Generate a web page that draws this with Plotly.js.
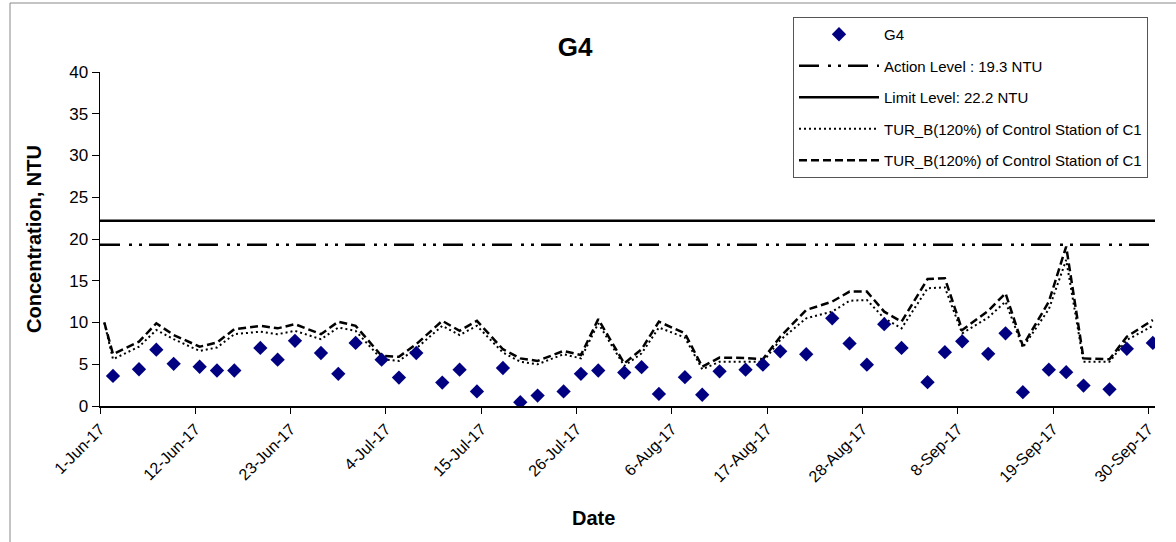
<!DOCTYPE html>
<html>
<head>
<meta charset="utf-8">
<script src="https://cdn.plot.ly/plotly-3.0.1.min.js"></script>
<style>
html,body{margin:0;padding:0;background:#fff;}
#chart{width:1176px;height:542px;}
</style>
</head>
<body>
<div id="chart"></div>
<script>
// ---- Data ----
const sampleDates = [
  "2017-06-02","2017-06-05","2017-06-07","2017-06-09","2017-06-12","2017-06-14","2017-06-16","2017-06-19","2017-06-21","2017-06-23","2017-06-26","2017-06-28","2017-06-30",
  "2017-07-03","2017-07-05","2017-07-07","2017-07-10","2017-07-12","2017-07-14","2017-07-17","2017-07-19","2017-07-21","2017-07-24","2017-07-26","2017-07-28","2017-07-31",
  "2017-08-02","2017-08-04","2017-08-07","2017-08-09","2017-08-11","2017-08-14","2017-08-16","2017-08-18","2017-08-21","2017-08-24","2017-08-26","2017-08-28","2017-08-30",
  "2017-09-01","2017-09-04","2017-09-06","2017-09-08","2017-09-11","2017-09-13","2017-09-15","2017-09-18","2017-09-20","2017-09-22","2017-09-25","2017-09-27","2017-09-30"
];
const g4Values = [
  3.6,4.4,6.75,5.05,4.7,4.25,4.25,6.95,5.55,7.8,6.35,3.85,7.55,
  5.55,3.4,6.35,2.8,4.35,1.75,4.55,0.45,1.25,1.75,3.85,4.25,4.0,
  4.65,1.45,3.45,1.35,4.15,4.35,4.95,6.55,6.2,10.5,7.5,4.95,9.8,
  6.95,2.85,6.45,7.75,6.25,8.7,1.65,4.35,4.05,2.45,2.0,6.85,7.55
];
const controlDates = ["2017-06-01"].concat(sampleDates);
const controlDashed = [
  10.0,
  6.2,7.7,9.9,8.5,7.1,7.6,9.2,9.6,9.3,9.8,8.6,10.1,9.6,
  6.0,5.9,7.4,10.2,9.0,10.2,6.8,5.7,5.4,6.6,6.1,10.4,5.1,
  6.8,10.1,8.7,4.7,5.8,5.75,5.6,8.3,11.5,12.5,13.7,13.7,11.3,
  10.1,15.2,15.3,9.1,11.4,13.5,7.2,12.5,19.1,5.7,5.6,8.3,10.3
];
const controlDotted = [
  10.0,
  5.6,7.1,9.1,8.0,6.6,7.0,8.6,8.9,8.6,9.0,8.0,9.4,9.0,
  5.6,5.4,6.9,9.6,8.5,9.6,6.4,5.3,5.0,6.2,5.7,9.9,4.8,
  6.3,9.4,8.2,4.4,5.3,5.3,5.3,7.9,10.5,11.3,12.6,12.7,10.5,
  9.3,14.1,14.2,8.7,10.6,12.5,7.0,11.6,17.5,5.3,5.3,7.9,9.6
];
const actionLevel = 19.3;
const limitLevel = 22.2;
const tickDates = ["2017-06-01","2017-06-12","2017-06-23","2017-07-04","2017-07-15","2017-07-26","2017-08-06","2017-08-17","2017-08-28","2017-09-08","2017-09-19","2017-09-30"];
const tickLabels = ["1-Jun-17","12-Jun-17","23-Jun-17","4-Jul-17","15-Jul-17","26-Jul-17","6-Aug-17","17-Aug-17","28-Aug-17","8-Sep-17","19-Sep-17","30-Sep-17"];
const yTicks = [0,5,10,15,20,25,30,35,40];

// ---- Axis geometry (the source chart's date ticks sit ~half a day before each date's marker) ----
const HALF_DAY = 12 * 3600 * 1000;
function shiftDate(s, ms) {
  const d = new Date(new Date(s + "T00:00:00Z").getTime() + ms);
  return d.toISOString().replace("T", " ").replace("Z", "").slice(0, 19);
}
const tickPositions = tickDates.map(d => shiftDate(d, -HALF_DAY));
const xRange = [shiftDate("2017-06-01", -HALF_DAY), shiftDate("2017-09-30", 6 * 3600 * 1000)];

const FONT = "Liberation Sans, Arial, sans-serif";

const traces = [
  {
    x: xRange, y: [limitLevel, limitLevel], type: "scatter", mode: "lines",
    name: "Limit Level: 22.2 NTU", legendrank: 3, legendgroup: "c",
    line: {color: "#000", width: 2.5}, hoverinfo: "skip"
  },
  {
    x: xRange, y: [actionLevel, actionLevel], type: "scatter", mode: "lines",
    name: "Action Level : 19.3 NTU", legendrank: 2, legendgroup: "b",
    line: {color: "#000", width: 2.5, dash: "20px,9px,3px,7px,3px,7px"}, hoverinfo: "skip"
  },
  {
    x: controlDates, y: controlDotted, type: "scatter", mode: "lines",
    name: "TUR_B(120%) of Control Station of C1", legendrank: 4, legendgroup: "d",
    line: {color: "#000", width: 2, dash: "2px,3px"}
  },
  {
    x: controlDates, y: controlDashed, type: "scatter", mode: "lines",
    name: "TUR_B(120%) of Control Station of C1", legendrank: 5, legendgroup: "e",
    line: {color: "#000", width: 2.5, dash: "8px,4px"}
  },
  {
    x: sampleDates, y: g4Values, type: "scatter", mode: "markers",
    name: "G4", legendrank: 1, legendgroup: "a",
    marker: {symbol: "diamond", size: 11, color: "#000080"}
  }
];

const layout = {
  width: 1176, height: 542,
  margin: {l: 100, r: 21, t: 72, b: 136},
  paper_bgcolor: "#fff", plot_bgcolor: "#fff",
  font: {family: FONT, color: "#000", size: 16},
  showlegend: true,
  title: {
    text: "<b>G4</b>", font: {family: FONT, size: 26, color: "#000"},
    x: 575/1176, xref: "container", xanchor: "center",
    y: 1 - 47/542, yref: "container", yanchor: "middle"
  },
  xaxis: {
    type: "date",
    range: xRange,
    tickvals: tickPositions, ticktext: tickLabels, tickangle: -45,
    ticks: "outside", ticklen: 6, tickwidth: 1, tickcolor: "#000",
    showline: true, linecolor: "#000", linewidth: 1.5,
    showgrid: false, zeroline: false,
    tickfont: {family: FONT, size: 16, color: "#000"},
    fixedrange: true
  },
  yaxis: {
    range: [0, 40],
    tickvals: yTicks,
    ticks: "outside", ticklen: 7, tickwidth: 1, tickcolor: "#000",
    showline: true, linecolor: "#000", linewidth: 1.5,
    showgrid: false, zeroline: false,
    tickfont: {family: FONT, size: 17, color: "#000"},
    title: {text: "<b>Concentration, NTU</b>", font: {family: FONT, size: 20, color: "#000"}, standoff: 22},
    fixedrange: true
  },
  legend: {
    x: (793-100)/1055, y: (406-17)/334, xanchor: "left", yanchor: "top",
    bgcolor: "#fff", bordercolor: "#555", borderwidth: 1,
    font: {family: FONT, size: 15, color: "#000"},
    traceorder: "grouped", tracegroupgap: 9,
    itemwidth: 80
  },
  annotations: [
    {
      text: "<b>Date</b>", xref: "paper", yref: "paper",
      x: (593-100)/1055, y: (406-518)/334, xanchor: "center", yanchor: "middle",
      showarrow: false, font: {family: FONT, size: 20, color: "#000"}
    }
  ],
  shapes: [
    {
      type: "rect", xref: "paper", yref: "paper",
      x0: (10-100)/1055, x1: (1190-100)/1055,
      y0: (406-560)/334, y1: (406-3)/334,
      line: {color: "#888", width: 1}, fillcolor: "rgba(0,0,0,0)", layer: "below"
    }
  ]
};

Plotly.newPlot("chart", traces, layout, {displayModeBar: false, staticPlot: true});
</script>
</body>
</html>
